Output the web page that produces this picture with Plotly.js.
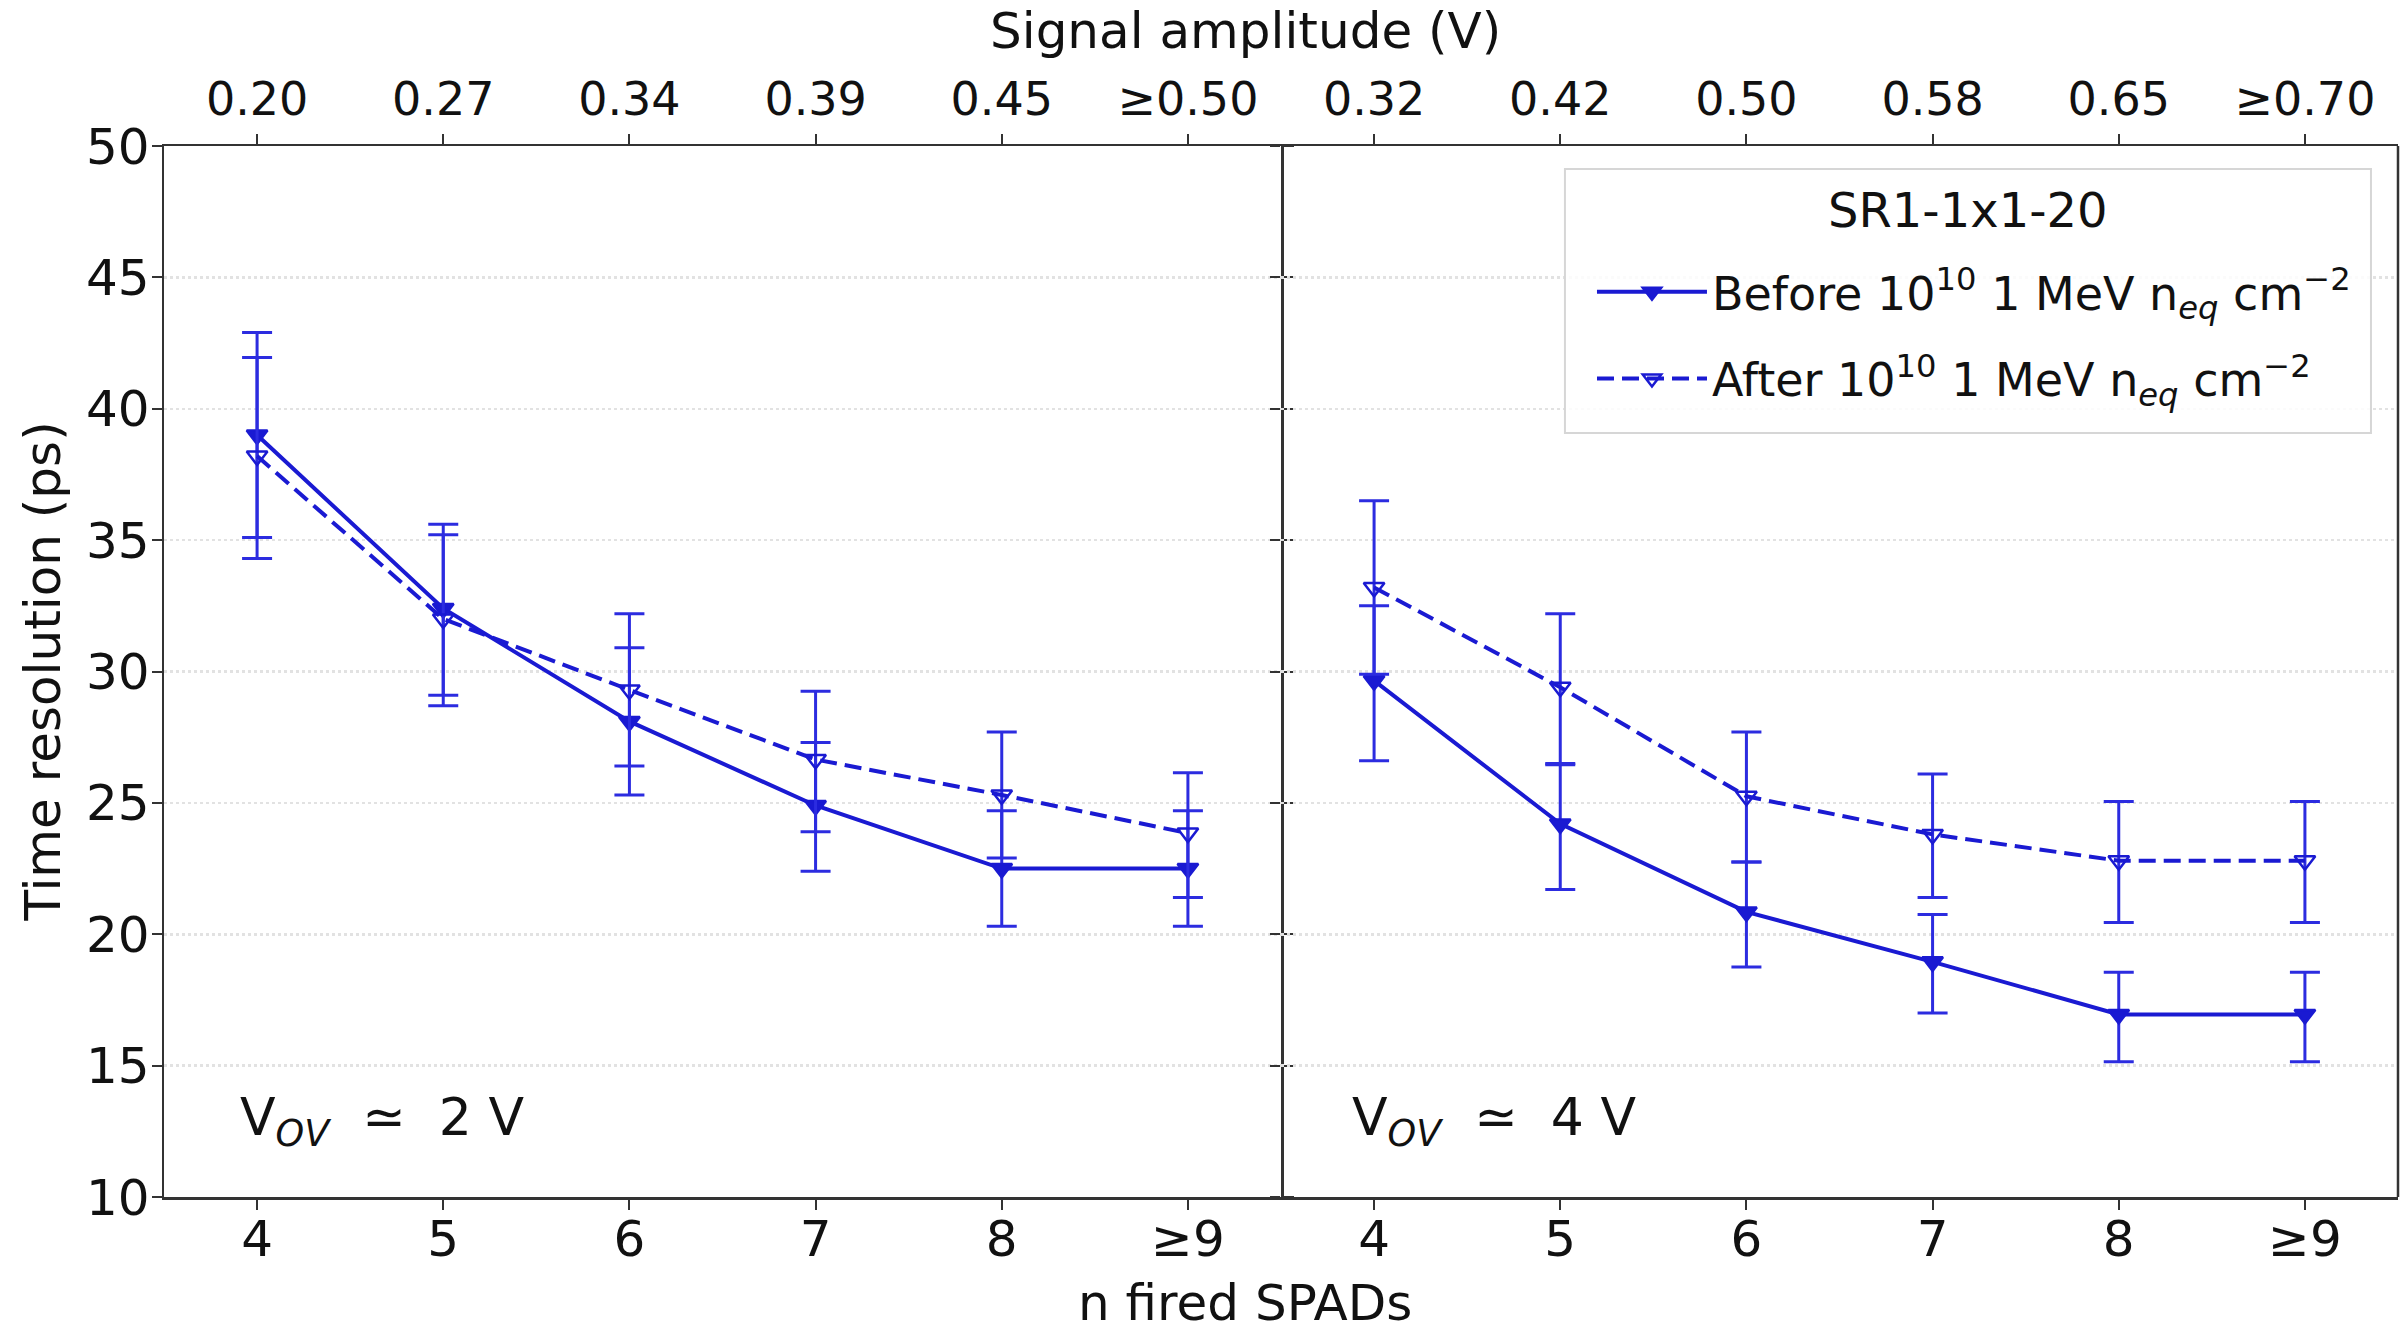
<!DOCTYPE html>
<html>
<head>
<meta charset="utf-8">
<script src="https://cdn.plot.ly/plotly-3.0.1.min.js"></script>
<style>html,body{margin:0;padding:0;background:#fff;}#chart{width:2407px;height:1341px;}</style>
</head>
<body>
<div id="chart"></div>
<script>
// ---- data ----
const nSpads = ['4', '5', '6', '7', '8', '≥9'];
const ampLow = ['0.20', '0.27', '0.34', '0.39', '0.45', '≥0.50'];   // V_OV ≈ 2 V
const ampHigh = ['0.32', '0.42', '0.50', '0.58', '0.65', '≥0.70'];  // V_OV ≈ 4 V

// V_OV ≈ 2 V
const before2 = [39.0, 32.4, 28.1, 24.9, 22.5, 22.5];
const before2Up = [3.9, 3.2, 2.8, 2.4, 2.2, 2.2];
const before2Dn = [3.9, 3.3, 2.8, 2.5, 2.2, 2.2];
const after2 = [38.2, 32.0, 29.3, 26.65, 25.3, 23.85];
const after2Up = [3.75, 3.2, 2.9, 2.6, 2.4, 2.3];
const after2Dn = [3.9, 3.3, 2.9, 2.75, 2.4, 2.45];

// V_OV ≈ 4 V
const before4 = [29.65, 24.2, 20.85, 18.95, 16.95, 16.95];
const before4Up = [2.85, 2.25, 1.9, 1.8, 1.6, 1.6];
const before4Dn = [3.05, 2.5, 2.1, 1.95, 1.8, 1.8];
const after4 = [33.2, 29.4, 25.25, 23.8, 22.8, 22.8];
const after4Up = [3.3, 2.8, 2.45, 2.3, 2.25, 2.25];
const after4Dn = [3.3, 2.9, 2.5, 2.4, 2.35, 2.35];

const legendTitle = 'SR1-1x1-20';
const nameBefore = 'Before 10<sup>10</sup> 1 MeV n<sub><i>eq</i></sub> cm<sup>−2</sup>';
const nameAfter = 'After 10<sup>10</sup> 1 MeV n<sub><i>eq</i></sub> cm<sup>−2</sup>';

// ---- style ----
const FONT = 'DejaVu Sans, Liberation Sans, sans-serif';
const LINE = '#1a1ad2';
const ERR = '#2c2ce0';
const idx = nSpads.map((_, i) => i);

function trace(y, up, dn, xa, ya, name, dash, symbol, show, group) {
  return {
    type: 'scatter', mode: 'lines+markers',
    x: idx, y: y, xaxis: xa, yaxis: ya, name: name, showlegend: show, legendgroup: group,
    line: {color: LINE, width: 4, dash: dash},
    marker: {symbol: symbol, size: 18, color: LINE, line: {color: LINE, width: 2.5}},
    error_y: {type: 'data', symmetric: false, array: up, arrayminus: dn,
              color: ERR, thickness: 3, width: 15}
  };
}
// invisible carrier traces so the top (signal amplitude) axes get drawn
function carrier(y, xa, ya) {
  return {type: 'scatter', mode: 'markers', x: idx, y: y, xaxis: xa, yaxis: ya,
          marker: {opacity: 0}, showlegend: false, hoverinfo: 'skip'};
}

const data = [
  trace(before2, before2Up, before2Dn, 'x', 'y', nameBefore, 'solid', 'triangle-down', true, 'b'),
  trace(after2, after2Up, after2Dn, 'x', 'y', nameAfter, '17px,8px', 'triangle-down-open', true, 'a'),
  trace(before4, before4Up, before4Dn, 'x2', 'y2', nameBefore, 'solid', 'triangle-down', false, 'b'),
  trace(after4, after4Up, after4Dn, 'x2', 'y2', nameAfter, '17px,8px', 'triangle-down-open', false, 'a'),
  carrier(before2, 'x3', 'y'),
  carrier(before4, 'x4', 'y2')
];

const tickFont = {family: FONT, size: 50, color: '#111'};
const xBase = {
  range: [-0.5, 5.5], tickmode: 'array', tickvals: idx,
  ticks: 'outside', ticklen: 10, tickwidth: 2, tickcolor: '#333',
  showline: true, linecolor: '#333', linewidth: 2.5,
  showgrid: false, zeroline: false, tickfont: tickFont, fixedrange: true
};
const yBase = {
  range: [10, 50], tickmode: 'linear', tick0: 10, dtick: 5,
  ticks: 'outside', ticklen: 10, tickwidth: 2, tickcolor: '#333',
  showgrid: true, gridcolor: '#e2e2e2', gridwidth: 2.5, griddash: 'dot',
  zeroline: false, tickfont: tickFont, fixedrange: true
};
const topFont = {family: FONT, size: 46, color: '#111'};

const layout = {
  width: 2407, height: 1341,
  margin: {l: 164, r: 9, t: 146, b: 144},
  paper_bgcolor: '#fff', plot_bgcolor: '#fff',
  font: {family: FONT, color: '#000'},
  showlegend: true,
  xaxis: Object.assign({}, xBase, {domain: [0, 0.5], anchor: 'y', ticktext: nSpads, ticklabelstandoff: -14}),
  xaxis2: Object.assign({}, xBase, {domain: [0.5, 1], anchor: 'y2', ticktext: nSpads, ticklabelstandoff: -14}),
  xaxis3: Object.assign({}, xBase, {domain: [0, 0.5], anchor: 'y', overlaying: 'x', side: 'top', ticktext: ampLow, tickfont: topFont}),
  xaxis4: Object.assign({}, xBase, {domain: [0.5, 1], anchor: 'y2', overlaying: 'x2', side: 'top', ticktext: ampHigh, tickfont: topFont}),
  yaxis: Object.assign({}, yBase, {domain: [0, 1], anchor: 'x', showline: true, linecolor: '#333', linewidth: 2.5, mirror: 'ticks', ticklabelstandoff: -8}),
  yaxis2: Object.assign({}, yBase, {domain: [0, 1], anchor: 'x2', showticklabels: false, showline: false}),
  shapes: [
    {type: 'line', xref: 'paper', yref: 'paper', x0: 1, x1: 1, y0: 0, y1: 1,
     line: {color: '#333', width: 2.5}},
    // legend frame
    {type: 'rect', xref: 'paper', yref: 'paper', x0: 0.6271, x1: 0.9879, y0: 0.7269, y1: 0.978,
     line: {color: '#d6d6d6', width: 2}, fillcolor: 'rgba(255,255,255,0.85)', layer: 'above'}
  ],
  legend: {
    x: 0.6392, y: 0.896, xanchor: 'left', yanchor: 'top',
    bgcolor: 'rgba(0,0,0,0)', borderwidth: 0,
    font: {family: FONT, size: 46, color: '#111'},
    itemwidth: 110, tracegroupgap: 24
  },
  annotations: [
    {text: legendTitle, xref: 'paper', yref: 'paper', x: 0.8075, y: 0.939,
     xanchor: 'center', yanchor: 'middle', showarrow: false,
     font: {family: FONT, size: 48, color: '#111'}},
    {text: 'Time resolution (ps)', xref: 'paper', yref: 'paper', x: -0.0546, y: 0.5,
     xanchor: 'center', yanchor: 'middle', textangle: -90, showarrow: false,
     font: {family: FONT, size: 50, color: '#111'}},
    {text: 'n fired SPADs', xref: 'paper', yref: 'paper', x: 0.4839, y: -0.1009,
     xanchor: 'center', yanchor: 'middle', showarrow: false,
     font: {family: FONT, size: 50, color: '#111'}},
    {text: 'Signal amplitude (V)', xref: 'paper', yref: 'paper', x: 0.4839, y: 1.0799,
     xanchor: 'center', yanchor: 'bottom', showarrow: false,
     font: {family: FONT, size: 50, color: '#111'}},
    {text: 'V<sub><i>OV</i></sub>  ≃  2 V', xref: 'paper', yref: 'paper', x: 0.033, y: 0.038,
     xanchor: 'left', yanchor: 'bottom', showarrow: false,
     font: {family: FONT, size: 52, color: '#111'}},
    {text: 'V<sub><i>OV</i></sub>  ≃  4 V', xref: 'paper', yref: 'paper', x: 0.531, y: 0.038,
     xanchor: 'left', yanchor: 'bottom', showarrow: false,
     font: {family: FONT, size: 52, color: '#111'}}
  ]
};

Plotly.newPlot('chart', data, layout, {staticPlot: true, displayModeBar: false});
</script>
</body>
</html>
